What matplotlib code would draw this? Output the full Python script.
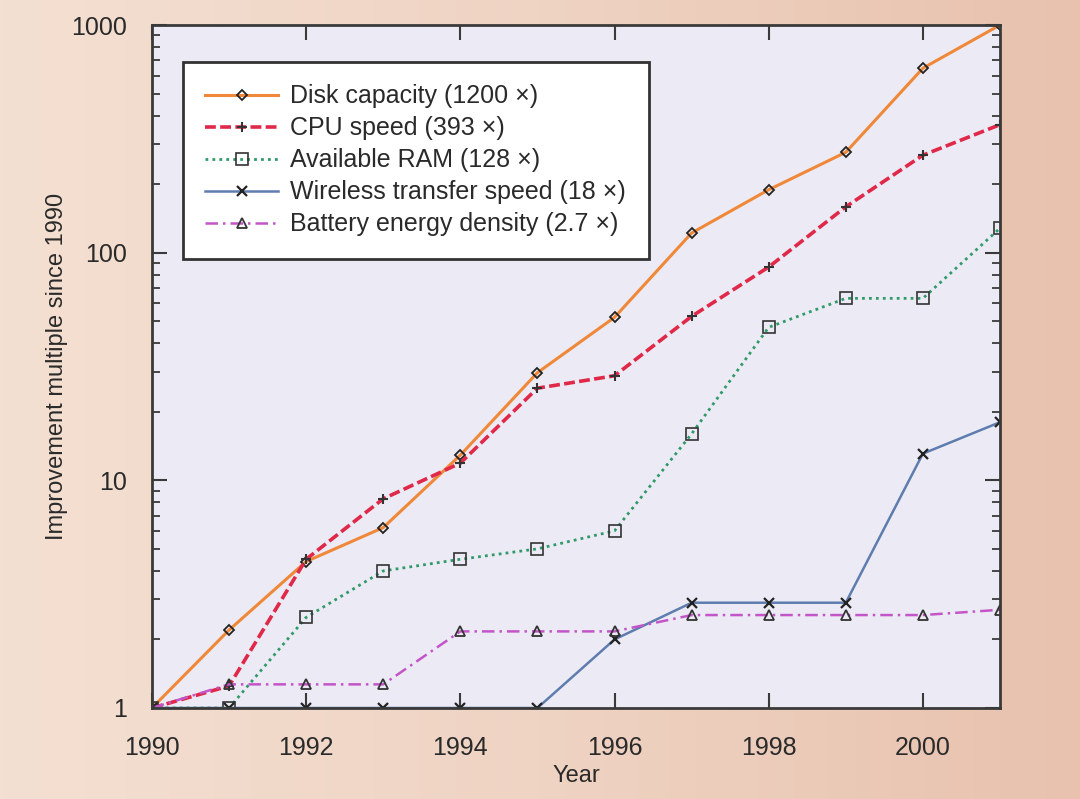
import numpy as np
import matplotlib
matplotlib.use('Agg')
import matplotlib.pyplot as plt
import matplotlib.ticker as ticker
from matplotlib.colors import LinearSegmentedColormap

plt.rcParams['font.family'] = ['Liberation Sans', 'DejaVu Sans']

years = [1990, 1991, 1992, 1993, 1994, 1995, 1996, 1997, 1998, 1999, 2000, 2001]
disk = [1, 2.2, 4.4, 6.2, 12.9, 29.7, 52, 122, 189, 276, 646, 1000]
cpu = [1, 1.25, 4.5, 8.3, 11.9, 25.4, 28.8, 52.5, 86.5, 159, 268, 365]
ram = [1, 1, 2.5, 4.0, 4.5, 5.0, 6.0, 16, 47, 63, 63, 128]
wireless = [1, 1, 1, 1, 1, 1, 2.0, 2.9, 2.9, 2.9, 13.1, 18]
battery = [1, 1.27, 1.27, 1.27, 2.17, 2.17, 2.17, 2.56, 2.56, 2.56, 2.56, 2.7]

labels = ['Disk capacity (1200 \u00d7)', 'CPU speed (393 \u00d7)', 'Available RAM (128 \u00d7)',
          'Wireless transfer speed (18 \u00d7)', 'Battery energy density (2.7 \u00d7)']

fig = plt.figure(figsize=(10.8, 7.99), dpi=100)

# peach gradient background
bg = fig.add_axes([0, 0, 1, 1], zorder=-10)
cmap = LinearSegmentedColormap.from_list('bg', ['#f4e0d2', '#efd3c3', '#e8c2ae'])
bg.imshow(np.linspace(0, 1, 256).reshape(1, -1), cmap=cmap, aspect='auto')
bg.axis('off')

ax = fig.add_axes([0.1407, 0.1139, 0.7852, 0.8548])
ax.set_facecolor('#ecebf5')

ax.plot(years, disk, color='#f0883a', lw=2.2, marker='D', ms=5, mfc='none', mec='#222222', mew=1.3, label=labels[0])
ax.plot(years, cpu, color='#e02848', lw=2.6, ls=(0, (3, 1.2)), marker='+', ms=7, mec='#333333', mew=1.5, label=labels[1])
ax.plot(years, ram, color='#2f9a68', lw=2.0, ls=(0, (1, 1.5)), marker='s', ms=8, mfc='none', mec='#333333', mew=1.2, label=labels[2])
ax.plot(years, wireless, color='#5f7cae', lw=1.8, marker='x', ms=7, mec='#222222', mew=1.6, label=labels[3])
ax.plot(years, battery, color='#c355c8', lw=1.8, ls=(0, (5, 2, 1, 2)), marker='^', ms=7, mfc='none', mec='#333333', mew=1.3, label=labels[4])

ax.set_yscale('log')
ax.set_xlim(1990, 2001)
ax.set_ylim(1, 1000)
ax.xaxis.set_major_locator(ticker.MultipleLocator(2))
ax.yaxis.set_major_locator(ticker.LogLocator(base=10))
ax.yaxis.set_minor_locator(ticker.LogLocator(base=10, subs=np.arange(2, 10)))
ax.yaxis.set_major_formatter(ticker.FuncFormatter(lambda v, p: '%d' % v))
ax.yaxis.set_minor_formatter(ticker.NullFormatter())

ax.tick_params(which='both', direction='in', top=True, right=True, colors='#3a3a3a', labelcolor='#2a2a2a')
ax.tick_params(which='major', length=11, width=1.5, labelsize=18)
ax.tick_params(which='minor', length=6, width=1.3)
ax.tick_params(axis='y', pad=18)
ax.tick_params(axis='x', pad=20)
for s in ax.spines.values():
    s.set_color('#3a3a3a')
    s.set_linewidth(2)

ax.set_xlabel('Year', fontsize=17, color='#2a2a2a', labelpad=4)
ax.set_ylabel('Improvement multiple since 1990', fontsize=17, color='#2a2a2a', labelpad=2)

leg = ax.legend(loc='upper left', bbox_to_anchor=(0.0366, 0.946), borderaxespad=0, fontsize=18,
                fancybox=False, edgecolor='#333333', framealpha=1, labelspacing=0.32,
                handlelength=2.9, borderpad=0.9, handletextpad=0.5)
leg.get_frame().set_linewidth(2)
for t in leg.get_texts():
    t.set_color('#2a2a2a')

plt.savefig('out.png', dpi=100)
